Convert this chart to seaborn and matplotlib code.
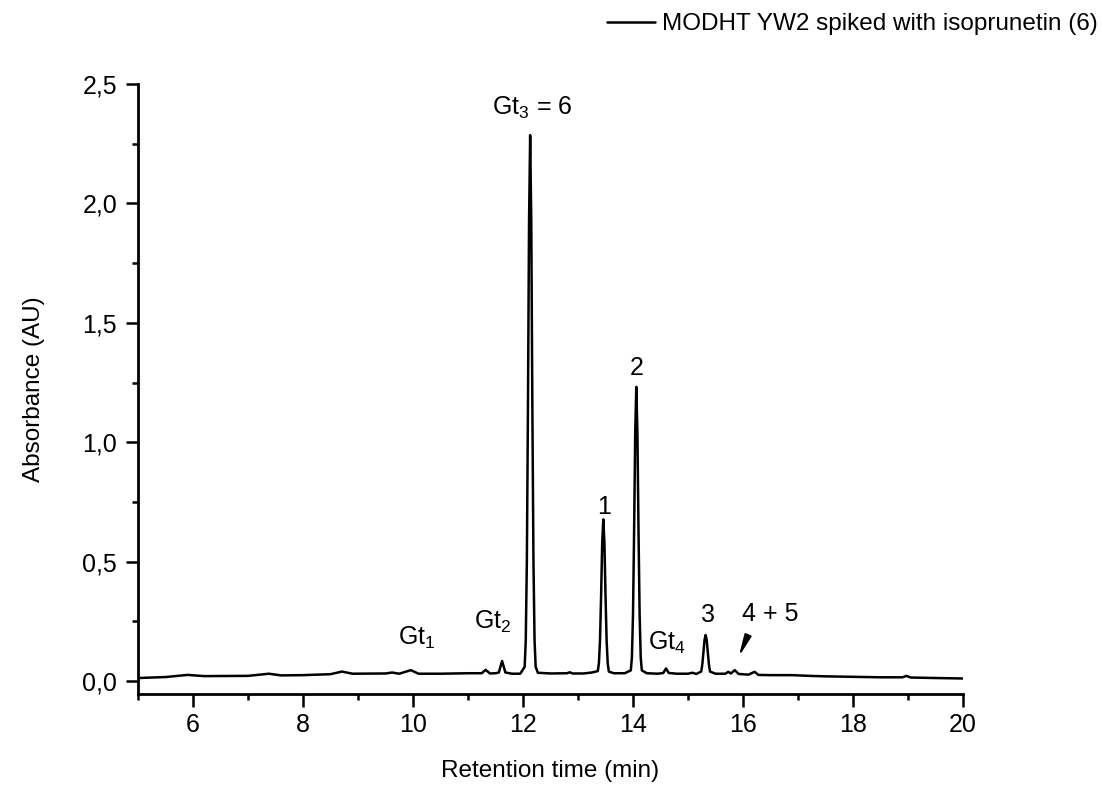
import matplotlib
matplotlib.use("Agg")
import matplotlib.pyplot as plt
import seaborn as sns
import pandas as pd
from matplotlib.ticker import FuncFormatter, MultipleLocator

# chromatogram trace (min, AU)
retention_time = [
    5.0, 5.5, 5.9, 6.2, 7.0, 7.38, 7.6, 8.0, 8.5, 8.71, 8.9, 9.5, 9.62, 9.75,
    9.96, 10.1, 10.5, 11.0, 11.25, 11.32, 11.4, 11.5,
    11.56, 11.59, 11.62, 11.65, 11.68, 11.8, 11.95,
    12.03, 12.05, 12.07, 12.09, 12.11, 12.13, 12.15, 12.17, 12.19, 12.21, 12.23, 12.27,
    12.5, 12.8, 12.85, 12.9, 13.1, 13.25,
    13.36, 13.38, 13.40, 13.42, 13.44, 13.46, 13.48, 13.50, 13.52, 13.54, 13.56,
    13.65, 13.85,
    13.96, 13.98, 14.00, 14.02, 14.04, 14.06, 14.08, 14.10, 14.12, 14.14, 14.16,
    14.25, 14.45, 14.55, 14.60, 14.65, 14.8, 15.0, 15.08, 15.15,
    15.24, 15.26, 15.28, 15.30, 15.32, 15.34, 15.36, 15.38, 15.40,
    15.5, 15.68, 15.73, 15.78, 15.85, 15.92, 16.1, 16.21, 16.28,
    16.5, 16.9, 17.2, 17.5, 18.0, 18.5, 18.9, 18.97, 19.05, 19.5, 20.0,
]
absorbance = [
    0.013, 0.017, 0.026, 0.021, 0.022, 0.031, 0.024, 0.025, 0.029, 0.040, 0.031, 0.032, 0.036, 0.031,
    0.046, 0.031, 0.031, 0.033, 0.033, 0.047, 0.032, 0.033,
    0.036, 0.060, 0.084, 0.060, 0.036, 0.031, 0.031,
    0.060, 0.17, 0.50, 1.15, 1.93, 2.286, 1.93, 1.15, 0.50, 0.17, 0.060, 0.035,
    0.032, 0.033, 0.037, 0.032, 0.032, 0.036,
    0.042, 0.075, 0.17, 0.36, 0.58, 0.677, 0.58, 0.36, 0.17, 0.075, 0.040,
    0.033, 0.033,
    0.045, 0.10, 0.28, 0.63, 1.04, 1.232, 1.04, 0.63, 0.28, 0.10, 0.045,
    0.033, 0.031, 0.034, 0.053, 0.034, 0.031, 0.031, 0.035, 0.030,
    0.040, 0.070, 0.12, 0.172, 0.193, 0.172, 0.12, 0.070, 0.040,
    0.031, 0.031, 0.039, 0.032, 0.046, 0.030, 0.027, 0.039, 0.026,
    0.025, 0.025, 0.022, 0.020, 0.018, 0.016, 0.016, 0.022, 0.015, 0.013, 0.011,
]
trace_label = "MODHT YW2 spiked with isoprunetin (6)"

# peak labels: text, x, y (baseline of text)
peak_labels = ["Gt$_1$", "Gt$_2$", "Gt$_3$ = 6", "1", "2", "Gt$_4$", "3", "4 + 5"]
label_x = [9.73, 11.10, 11.43, 13.47, 14.07, 14.28, 15.37, 15.98]
label_y = [0.151, 0.221, 2.37, 0.70, 1.28, 0.13, 0.247, 0.25]
label_ha = ["left", "left", "left", "center", "center", "left", "center", "left"]

df = pd.DataFrame({"time": retention_time, "abs": absorbance})

sns.set_style("ticks")
plt.rcParams["font.family"] = ["Liberation Sans", "DejaVu Sans"]
plt.rcParams["mathtext.default"] = "regular"
plt.rcParams["text.color"] = "black"
plt.rcParams["axes.labelcolor"] = "black"

fig = plt.figure(figsize=(11.03, 7.85), dpi=100)
ax = fig.add_axes([0.1251, 0.1159, 0.748, 0.7771])

sns.lineplot(data=df, x="time", y="abs", sort=False, estimator=None,
             color="black", linewidth=1.8, label=trace_label, ax=ax)

ax.set_xlim(5, 20)
ax.set_ylim(-0.054, 2.5)
ax.xaxis.set_major_locator(MultipleLocator(2))
ax.xaxis.set_minor_locator(MultipleLocator(1))
ax.yaxis.set_major_locator(MultipleLocator(0.5))
ax.yaxis.set_minor_locator(MultipleLocator(0.25))
ax.yaxis.set_major_formatter(FuncFormatter(lambda v, p: f"{v:.1f}".replace(".", ",")))
ax.tick_params(which="major", direction="out", length=9, width=1.8, labelsize=18, colors="black")
ax.tick_params(which="minor", direction="out", length=4.5, width=1.8, colors="black")
ax.tick_params(axis="y", which="major", pad=6)
ax.tick_params(axis="x", which="major", pad=5)
for s in ["top", "right"]:
    ax.spines[s].set_visible(False)
for s in ["left", "bottom"]:
    ax.spines[s].set_linewidth(2.0)
    ax.spines[s].set_color("black")

ax.set_xlabel("Retention time (min)", fontsize=17.5, labelpad=16, color="black")
ax.set_ylabel("Absorbance (AU)", fontsize=17.5, labelpad=27, color="black")

for txt, x, y, ha in zip(peak_labels, label_x, label_y, label_ha):
    ax.text(x, y, txt, ha=ha, va="baseline", fontsize=18, color="black")

ax.annotate("", xy=(15.9, 0.09), xytext=(16.04, 0.165),
            arrowprops=dict(arrowstyle="-|>,head_length=0.8,head_width=0.13",
                            color="black", lw=1.4, mutation_scale=16))

handles, labels = ax.get_legend_handles_labels()
ax.get_legend().remove()
leg = fig.legend(handles, labels, loc="upper right", bbox_to_anchor=(0.997, 0.986),
                 frameon=False, fontsize=17.5, handlelength=2.0, handletextpad=0.25,
                 borderaxespad=0, borderpad=0.1)
for t in leg.get_texts():
    t.set_color("black")

fig.savefig("out.png", dpi=100)
